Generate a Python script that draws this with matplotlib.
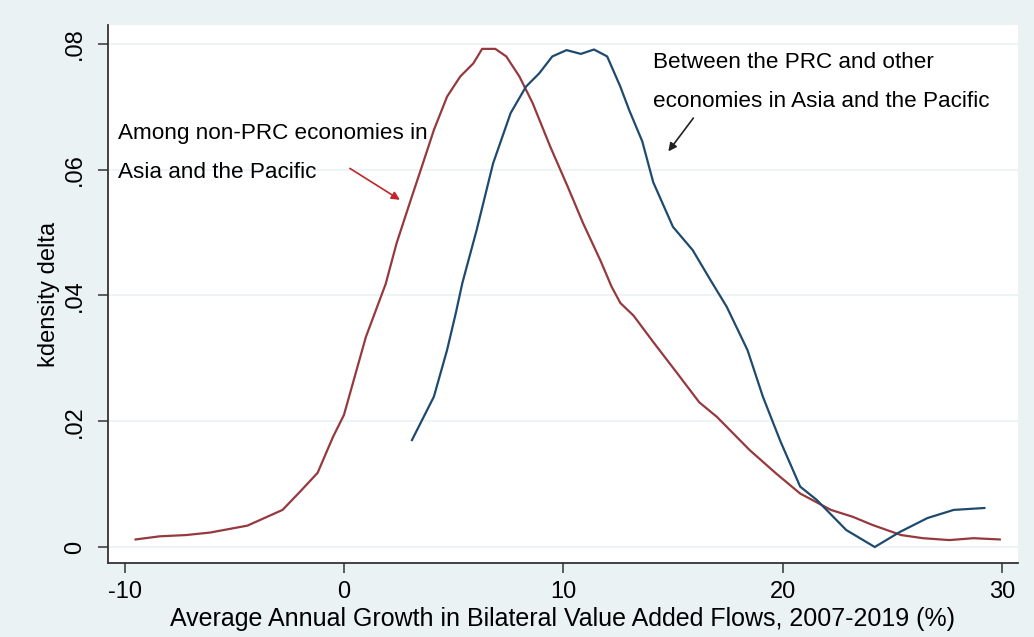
import matplotlib
matplotlib.use("Agg")
import matplotlib.pyplot as plt

plt.rcParams['font.family'] = ['Liberation Sans', 'DejaVu Sans']

# kernel density, flows among non-PRC economies
nonprc_x = [-9.5, -8.4, -7.2, -6.1, -4.4, -2.8, -2.0, -1.2, -0.5, 0.0, 1.0, 1.9,
            2.4, 3.0, 3.6, 4.1, 4.7, 5.3, 5.9, 6.3, 6.9, 7.4, 8.0, 8.6, 9.4,
            10.2, 10.9, 11.7, 12.2, 12.6, 13.2, 14.1, 15.2, 16.2, 17.0, 18.5,
            19.7, 20.8, 22.2, 23.2, 24.1, 25.4, 26.4, 27.6, 28.7, 29.9]
nonprc_y = [0.0012, 0.0017, 0.0019, 0.0023, 0.0034, 0.0059, 0.0088, 0.0118,
            0.0175, 0.0210, 0.0334, 0.0418, 0.0483, 0.0547, 0.0610, 0.0663,
            0.0716, 0.0748, 0.0769, 0.0792, 0.0792, 0.0780, 0.0748, 0.0706,
            0.0637, 0.0573, 0.0515, 0.0455, 0.0414, 0.0388, 0.0368, 0.0326,
            0.0276, 0.0230, 0.0207, 0.0154, 0.0117, 0.0085, 0.0059, 0.0048,
            0.0035, 0.0019, 0.0014, 0.0011, 0.0014, 0.0012]

# kernel density, flows between the PRC and other economies
prc_x = [3.1, 4.1, 4.7, 5.1, 5.4, 6.05, 6.8, 7.6, 8.3, 8.9, 9.5, 10.15, 10.8,
         11.4, 12.0, 12.6, 13.0, 13.6, 14.1, 15.0, 15.9, 16.7, 17.45, 18.4,
         19.1, 19.9, 20.8, 21.55, 22.9, 24.2, 25.35, 26.6, 27.8, 29.2]
prc_y = [0.0170, 0.0239, 0.0313, 0.0372, 0.0420, 0.0504, 0.0610, 0.0690,
         0.0732, 0.0753, 0.0780, 0.0790, 0.0784, 0.0791, 0.0780, 0.0732,
         0.0695, 0.0645, 0.0580, 0.0509, 0.0472, 0.0425, 0.0382, 0.0313,
         0.0239, 0.0168, 0.0096, 0.0075, 0.0027, 0.0000, 0.0024, 0.0046,
         0.0059, 0.0062]

xticks = [-10, 0, 10, 20, 30]
yticks = [0, 0.02, 0.04, 0.06, 0.08]
ytick_labels = ['0', '.02', '.04', '.06', '.08']

bg = '#eaf2f3'
navy = '#1f4a70'
maroon = '#96393f'

fig = plt.figure(figsize=(10.34, 6.37), dpi=100, facecolor=bg)
ax = fig.add_axes([0.1044, 0.1162, 0.8801, 0.8446])
ax.set_facecolor('white')

for y in yticks:
    ax.axhline(y, color=bg, lw=1.2, zorder=0)

ax.plot(nonprc_x, nonprc_y, color=maroon, lw=1.6)
ax.plot(prc_x, prc_y, color=navy, lw=1.6)

ax.set_xlim(-10.76, 30.73)
ax.set_ylim(-0.00254, 0.0830)
ax.set_xticks(xticks)
ax.set_xticklabels([str(t) for t in xticks])
ax.set_yticks(yticks)
ax.set_yticklabels(ytick_labels, rotation=90, va='center')

for side in ['top', 'right']:
    ax.spines[side].set_visible(False)
for side in ['left', 'bottom']:
    ax.spines[side].set_color('#333333')
    ax.spines[side].set_linewidth(1.3)

ax.tick_params(axis='x', length=7, width=1.1, color='#333333', labelsize=17, pad=6)
ax.tick_params(axis='y', length=7, width=1.1, color='#333333', labelsize=17, pad=9)

ax.set_xlabel('Average Annual Growth in Bilateral Value Added Flows, 2007-2019 (%)',
              fontsize=18, labelpad=3)
ax.set_ylabel('kdensity delta', fontsize=17, labelpad=3)

ax.text(-10.3, 0.0658, 'Among non-PRC economies in', fontsize=16.2, va='center')
ax.text(-10.3, 0.0596, 'Asia and the Pacific', fontsize=16.2, va='center')
ax.text(14.09, 0.0771, 'Between the PRC and other', fontsize=16.2, va='center')
ax.text(14.09, 0.0708, 'economies in Asia and the Pacific', fontsize=16.2, va='center')

ax.annotate('', xy=(2.55, 0.0552), xytext=(0.27, 0.0602),
            arrowprops=dict(arrowstyle='-|>', color='#c0262c', lw=1.2,
                            mutation_scale=12, shrinkA=0, shrinkB=0))
ax.annotate('', xy=(14.79, 0.0629), xytext=(15.93, 0.0682),
            arrowprops=dict(arrowstyle='-|>', color='#222222', lw=1.2,
                            mutation_scale=12, shrinkA=0, shrinkB=0))

fig.savefig('out.png', dpi=100, facecolor=bg)
